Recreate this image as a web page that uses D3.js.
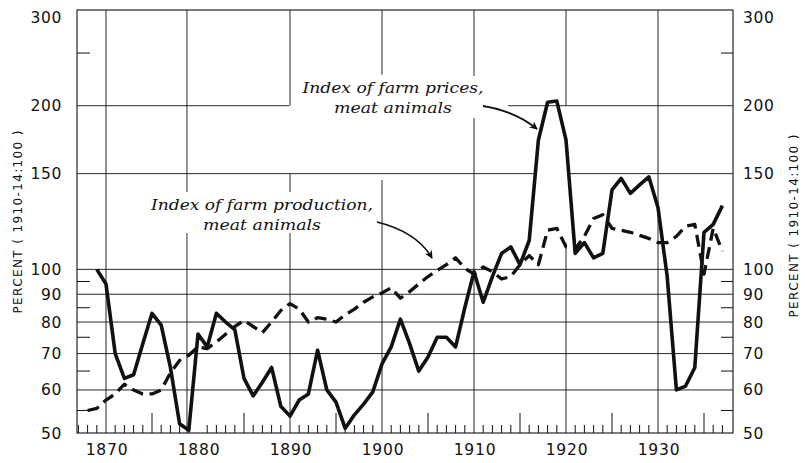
<!DOCTYPE html>
<html>
<head>
<meta charset="utf-8">
<script src="https://cdn.jsdelivr.net/npm/d3@7"></script>
<style>
  html, body { margin: 0; padding: 0; background: #fff; }
  svg { display: block; }
</style>
</head>
<body>
<svg id="chart" width="805" height="463"></svg>
<script>
// ---------------- data ----------------
const priceYears = [1869,1870,1871,1872,1873,1874,1875,1876,1877,1878,1879,1880,1881,1882,1883,1884,1885,1886,1887,1888,1889,
  1890,1891,1892,1893,1894,1895,1896,1897,1898,1899,1900,1901,1902,1903,1904,1905,1906,1907,1908,1909,
  1910,1911,1912,1913,1914,1915,1916,1917,1918,1919,1920,1921,1922,1923,1924,1925,1926,1927,1928,1929,
  1930,1931,1932,1933,1934,1935,1936,1937];
const priceValues = [100,94,70,63,64,73,83,79,66,52,50.6,76,72,83,80,77.5,63,58.5,62,66,56,
  53.7,57.5,59,71,60,57,51,54,56.5,59.5,67,72,81,73,65,69,75,75,72,85,
  99,87,97,107,110,102,113,173,203,204,173,107,112,105,107,140,147,138,143,148,
  130,97,60,61,66,117,121,131];

const prodYears = [1868,1869,1870,1871,1872,1873,1874,1875,1876,1877,1878,1879,1880,1881,1882,1883,1884,1885,1886,1887,1888,1889,
  1890,1891,1892,1893,1894,1895,1896,1897,1898,1899,1900,1901,1902,1903,1904,1905,1906,1907,1908,1909,
  1910,1911,1912,1913,1914,1915,1916,1917,1918,1919,1920,1921,1922,1923,1924,1925,1926,1927,1928,1929,
  1930,1931,1932,1933,1934,1935,1936,1937];
const prodValues = [55,55.5,57.5,59,61.5,60,59,59,60,64.5,68,69.5,72,71.5,73.5,76,78.5,80.5,78.5,76.5,80,84,
  86.5,84.5,80,81.5,81,80,82.5,84.5,87,89,90.5,92.5,88.5,91,94,97,99.5,102,105,100.5,
  98,101,99,96,97,102,106,102,118,119,110,109,115,124,126,119,118,117,115.5,114,
  112,112,115,120,121,98,119,108];

const yTickValues = [50,60,70,80,90,100,150,200,300];
const yTickLabels = ["50","60","70","80","90","100","150","200","300"];
const yMinorTicks = [55,65,75,85,95,250];
const xTickYears = [1870,1880,1890,1900,1910,1920,1930];
const xTickLabels = ["1870","1880","1890","1900","1910","1920","1930"];
const xGridYears = [1870,1878.8,1890,1900,1910,1920,1930];
const xGridGaps = [[],[],[[150,200]],[[146,228]],[],[[112,200]],[]];
const yGridValues = [60,70,80,90,100,150,200];
const yGridGaps = [[],[],[],[],[],[[1916.6,1920.4]],[[1889.9,1913.7]]];
const axisTitle = "PERCENT ( 1910-14:100 )";
const priceLabel = ["Index of farm prices,", "meat animals"];
const prodLabel = ["Index of farm production,", "meat animals"];

// ---------------- layout ----------------
const svg = d3.select("#chart");
const L = 77, R = 733, T = 10, B = 433;
const x = d3.scaleLinear().domain([1870, 1930]).range([106, 658]);
const y = d3.scaleLog().domain([50, 300]).range([B, T]);
const ink = "#111";

// grid
const g = svg.append("g");
xGridYears.forEach((yr, i) => {
  const gaps = xGridGaps[i].slice().sort((a,b)=>a[0]-b[0]);
  let segs = [], lo = 50;
  gaps.forEach(([a,b]) => { segs.push([lo,a]); lo = b; });
  segs.push([lo,300]);
  segs.forEach(([a,b]) => g.append("line")
    .attr("x1", x(yr)).attr("x2", x(yr)).attr("y1", y(a)).attr("y2", y(b))
    .attr("stroke", ink).attr("stroke-width", 0.9));
});
yGridValues.forEach((v, i) => {
  const gaps = yGridGaps[i];
  let segs = [], lo = x.invert(L);
  gaps.forEach(([a,b]) => { segs.push([lo,a]); lo = b; });
  segs.push([lo, x.invert(R)]);
  segs.forEach(([a,b]) => g.append("line")
    .attr("x1", x(a)).attr("x2", x(b)).attr("y1", y(v)).attr("y2", y(v))
    .attr("stroke", ink).attr("stroke-width", 0.9));
});

// frame
svg.append("rect").attr("x", L).attr("y", T).attr("width", R-L).attr("height", B-T)
  .attr("fill", "none").attr("stroke", ink).attr("stroke-width", 1.1);

// minor y ticks (both sides)
yMinorTicks.forEach(v => {
  g.append("line").attr("x1", L).attr("x2", L+13).attr("y1", y(v)).attr("y2", y(v)).attr("stroke", ink).attr("stroke-width", 1);
  g.append("line").attr("x1", R-12).attr("x2", R).attr("y1", y(v)).attr("y2", y(v)).attr("stroke", ink).attr("stroke-width", 1);
});

// yearly x ticks
for (let yr = 1867; yr <= 1937; yr++) {
  if (yr % 10 === 0) continue;
  const len = (yr % 5 === 0) ? 20 : 8;
  g.append("line").attr("x1", x(yr)).attr("x2", x(yr)).attr("y1", B).attr("y2", B-len)
    .attr("stroke", ink).attr("stroke-width", 1);
}

// label background boxes
svg.append("rect").attr("x", 298).attr("y", 76).attr("width", 190).attr("height", 42).attr("fill", "#fff");
svg.append("rect").attr("x", 146).attr("y", 192).attr("width", 230).attr("height", 41).attr("fill", "#fff");

// series
const line = d3.line().x(d => x(d[0])).y(d => y(d[1]));
const prodData = prodYears.map((yr,i) => [yr, prodValues[i]]);
const priceData = priceYears.map((yr,i) => [yr, priceValues[i]]);
svg.append("path").datum(prodData).attr("d", line)
  .attr("fill", "none").attr("stroke", ink).attr("stroke-width", 3.3)
  .attr("stroke-dasharray", "12,6.5").attr("stroke-linejoin", "round");
svg.append("path").datum(priceData).attr("d", line)
  .attr("fill", "none").attr("stroke", ink).attr("stroke-width", 3.6)
  .attr("stroke-linejoin", "round");

// tick labels
const tickFont = "'DejaVu Sans', sans-serif";
yTickValues.forEach((v, i) => {
  const yy = Math.max(17, Math.min(436, y(v))) + 5.5;
  svg.append("text").attr("x", 62).attr("y", yy).attr("text-anchor", "end")
    .attr("font-family", tickFont).attr("font-size", 15.5).attr("letter-spacing", 0.6)
    .attr("fill", ink).text(yTickLabels[i]);
  svg.append("text").attr("x", 743).attr("y", yy).attr("text-anchor", "start")
    .attr("font-family", tickFont).attr("font-size", 15.5).attr("letter-spacing", 0.6)
    .attr("fill", ink).text(yTickLabels[i]);
});
xTickYears.forEach((yr, i) => {
  svg.append("text").attr("x", x(yr)+1).attr("y", 455).attr("text-anchor", "middle")
    .attr("font-family", tickFont).attr("font-size", 15.5).attr("letter-spacing", 0.8)
    .attr("fill", ink).text(xTickLabels[i]);
});

// axis titles
[[17,222],[793,226]].forEach(([cx,cy]) => {
  svg.append("text").attr("transform", `translate(${cx+4.5},${cy}) rotate(-90)`)
    .attr("text-anchor", "middle").attr("font-family", tickFont).attr("font-size", 12)
    .attr("textLength", 183).attr("lengthAdjust", "spacing")
    .attr("fill", ink).text(axisTitle);
});

// annotations
const annFont = "'DejaVu Serif', serif";
function ann(lines, cx, ys, widths) {
  lines.forEach((t, i) => {
    svg.append("text").attr("x", cx).attr("y", ys[i]).attr("text-anchor", "middle")
      .attr("font-family", annFont).attr("font-style", "italic").attr("font-size", 14)
      .attr("textLength", widths[i]).attr("lengthAdjust", "spacingAndGlyphs")
      .attr("fill", ink).text(t);
  });
}
ann(priceLabel, 393, [93, 113], [181, 118]);
ann(prodLabel, 262, [210, 230], [222, 118]);

// arrows
const defs = svg.append("defs");
defs.append("marker").attr("id", "ah").attr("viewBox", "0 0 10 10").attr("refX", 9).attr("refY", 5)
  .attr("markerWidth", 11).attr("markerHeight", 8).attr("markerUnits", "userSpaceOnUse")
  .attr("orient", "auto")
  .append("path").attr("d", "M0,0 L10,5 L0,10 L3,5 Z").attr("fill", ink);
svg.append("path").attr("d", "M483,106 Q515,111 537,129")
  .attr("fill", "none").attr("stroke", ink).attr("stroke-width", 1.8).attr("marker-end", "url(#ah)");
svg.append("path").attr("d", "M377,222 Q417,232 432,258")
  .attr("fill", "none").attr("stroke", ink).attr("stroke-width", 1.6).attr("marker-end", "url(#ah)");
</script>
</body>
</html>
